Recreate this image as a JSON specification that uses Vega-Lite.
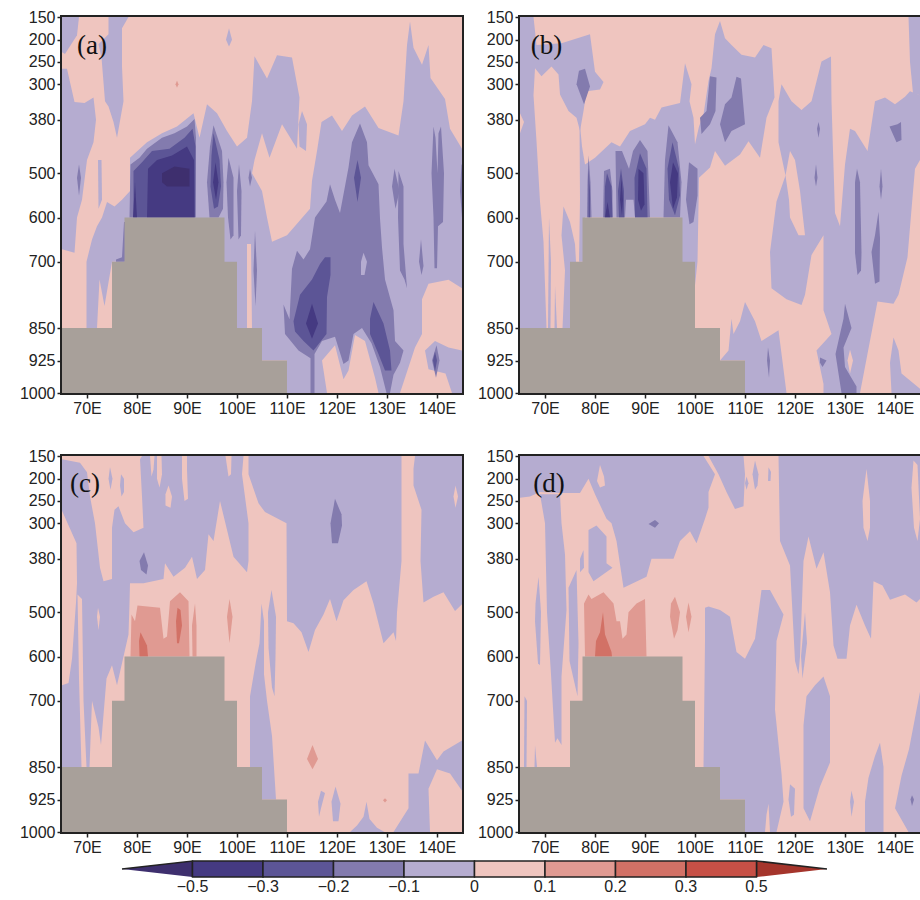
{"$schema":"https://vega.github.io/schema/vega-lite/v6.json","padding":{"left":17,"top":7,"right":0,"bottom":0},"background":"white","autosize":{"type":"pad"},
"config":{"view":{"stroke":"#222","strokeWidth":4},"axis":{"title":null,"grid":false,"domain":false,"tickSize":5,"tickWidth":1.5,"tickColor":"#222","labelFont":"Liberation Sans","labelFontSize":16,"labelColor":"#222","labelPadding":2}},
"datasets":{
"land":[{"id":99,"v":"land","x":65,"y":1000},{"id":99,"v":"land","x":65,"y":850},{"id":99,"v":"land","x":75,"y":850},{"id":99,"v":"land","x":75,"y":700},{"id":99,"v":"land","x":77.5,"y":700},{"id":99,"v":"land","x":77.5,"y":600},{"id":99,"v":"land","x":97.5,"y":600},{"id":99,"v":"land","x":97.5,"y":700},{"id":99,"v":"land","x":100,"y":700},{"id":99,"v":"land","x":100,"y":850},{"id":99,"v":"land","x":105,"y":850},{"id":99,"v":"land","x":105,"y":925},{"id":99,"v":"land","x":110,"y":925},{"id":99,"v":"land","x":110,"y":1000}],
"a":[
{"id":0,"v":"p1","x":65,"y":150},{"id":0,"v":"p1","x":145,"y":150},{"id":0,"v":"p1","x":145,"y":1000},{"id":0,"v":"p1","x":65,"y":1000},
{"id":1,"v":"n1","x":65,"y":150},{"id":1,"v":"n1","x":68.4,"y":150},{"id":1,"v":"n1","x":68,"y":190},{"id":1,"v":"n1","x":65.6,"y":232},{"id":1,"v":"n1","x":65,"y":228},
{"id":2,"v":"n1","x":74.3,"y":150},{"id":2,"v":"n1","x":78.3,"y":150},{"id":2,"v":"n1","x":77,"y":175},{"id":2,"v":"n1","x":77,"y":260},{"id":2,"v":"n1","x":77.3,"y":338},{"id":2,"v":"n1","x":76,"y":420},{"id":2,"v":"n1","x":75.3,"y":385},{"id":2,"v":"n1","x":74.3,"y":350},{"id":2,"v":"n1","x":73.6,"y":338},{"id":2,"v":"n1","x":72.9,"y":240},{"id":2,"v":"n1","x":72.3,"y":210},{"id":2,"v":"n1","x":74.3,"y":188},
{"id":3,"v":"n1","x":65,"y":265},{"id":3,"v":"n1","x":66,"y":265},{"id":3,"v":"n1","x":67.5,"y":340},{"id":3,"v":"n1","x":69.5,"y":342},{"id":3,"v":"n1","x":71.3,"y":330},{"id":3,"v":"n1","x":71.8,"y":380},{"id":3,"v":"n1","x":71.3,"y":430},{"id":3,"v":"n1","x":70,"y":470},{"id":3,"v":"n1","x":69,"y":560},{"id":3,"v":"n1","x":68,"y":600},{"id":3,"v":"n1","x":67.5,"y":680},{"id":3,"v":"n1","x":65,"y":672},
{"id":4,"v":"n1","x":69.9,"y":850},{"id":4,"v":"n1","x":69.9,"y":700},{"id":4,"v":"n1","x":71,"y":650},{"id":4,"v":"n1","x":72,"y":620},{"id":4,"v":"n1","x":73,"y":600},{"id":4,"v":"n1","x":74,"y":565},{"id":4,"v":"n1","x":75.5,"y":575},{"id":4,"v":"n1","x":77,"y":560},{"id":4,"v":"n1","x":78.6,"y":540},{"id":4,"v":"n1","x":78.6,"y":620},{"id":4,"v":"n1","x":77.5,"y":620},{"id":4,"v":"n1","x":77.5,"y":700},{"id":4,"v":"n1","x":75,"y":700},{"id":4,"v":"n1","x":73.5,"y":800},{"id":4,"v":"n1","x":72.5,"y":740},{"id":4,"v":"n1","x":72,"y":850},
{"id":5,"v":"n1","x":72.2,"y":470},{"id":5,"v":"n1","x":72.9,"y":470},{"id":5,"v":"n1","x":73,"y":560},{"id":5,"v":"n1","x":72.3,"y":580},
{"id":6,"v":"n1","x":78.6,"y":465},{"id":6,"v":"n1","x":82,"y":430},{"id":6,"v":"n1","x":85,"y":410},{"id":6,"v":"n1","x":88,"y":395},{"id":6,"v":"n1","x":91.3,"y":365},{"id":6,"v":"n1","x":92.5,"y":420},{"id":6,"v":"n1","x":94,"y":345},{"id":6,"v":"n1","x":96,"y":365},{"id":6,"v":"n1","x":98,"y":405},{"id":6,"v":"n1","x":100,"y":440},{"id":6,"v":"n1","x":102,"y":420},{"id":6,"v":"n1","x":103,"y":338},{"id":6,"v":"n1","x":103.5,"y":237},{"id":6,"v":"n1","x":106,"y":287},{"id":6,"v":"n1","x":108,"y":235},{"id":6,"v":"n1","x":111,"y":240},{"id":6,"v":"n1","x":112.5,"y":330},{"id":6,"v":"n1","x":112,"y":445},{"id":6,"v":"n1","x":109,"y":390},{"id":6,"v":"n1","x":106.5,"y":465},{"id":6,"v":"n1","x":105,"y":410},{"id":6,"v":"n1","x":103.5,"y":470},{"id":6,"v":"n1","x":103,"y":500},{"id":6,"v":"n1","x":105,"y":540},{"id":6,"v":"n1","x":106,"y":600},{"id":6,"v":"n1","x":107,"y":655},{"id":6,"v":"n1","x":110,"y":640},{"id":6,"v":"n1","x":114.6,"y":580},{"id":6,"v":"n1","x":115,"y":517},{"id":6,"v":"n1","x":116,"y":450},{"id":6,"v":"n1","x":116.9,"y":385},{"id":6,"v":"n1","x":119,"y":370},{"id":6,"v":"n1","x":121,"y":405},{"id":6,"v":"n1","x":123,"y":370},{"id":6,"v":"n1","x":125.6,"y":350},{"id":6,"v":"n1","x":128.3,"y":398},{"id":6,"v":"n1","x":132.3,"y":415},{"id":6,"v":"n1","x":133.3,"y":338},{"id":6,"v":"n1","x":134,"y":212},{"id":6,"v":"n1","x":134.6,"y":160},{"id":6,"v":"n1","x":135.3,"y":218},{"id":6,"v":"n1","x":137,"y":256},{"id":6,"v":"n1","x":138.3,"y":212},{"id":6,"v":"n1","x":138.7,"y":286},{"id":6,"v":"n1","x":141.6,"y":333},{"id":6,"v":"n1","x":142.6,"y":400},{"id":6,"v":"n1","x":145,"y":445},{"id":6,"v":"n1","x":145,"y":760},{"id":6,"v":"n1","x":142.3,"y":741},{"id":6,"v":"n1","x":138.3,"y":750},{"id":6,"v":"n1","x":137,"y":785},{"id":6,"v":"n1","x":137,"y":864},{"id":6,"v":"n1","x":135.6,"y":895},{"id":6,"v":"n1","x":132.6,"y":1000},{"id":6,"v":"n1","x":128.3,"y":1000},{"id":6,"v":"n1","x":127.6,"y":965},{"id":6,"v":"n1","x":125.6,"y":880},{"id":6,"v":"n1","x":123.6,"y":866},{"id":6,"v":"n1","x":122.3,"y":948},{"id":6,"v":"n1","x":121.3,"y":968},{"id":6,"v":"n1","x":119.6,"y":890},{"id":6,"v":"n1","x":117,"y":925},{"id":6,"v":"n1","x":118,"y":1000},{"id":6,"v":"n1","x":110,"y":1000},{"id":6,"v":"n1","x":110,"y":925},{"id":6,"v":"n1","x":105,"y":925},{"id":6,"v":"n1","x":105,"y":850},{"id":6,"v":"n1","x":103,"y":850},{"id":6,"v":"n1","x":102.8,"y":660},{"id":6,"v":"n1","x":102,"y":660},{"id":6,"v":"n1","x":102,"y":850},{"id":6,"v":"n1","x":90,"y":850},{"id":6,"v":"n1","x":78.6,"y":600},
{"id":7,"v":"n1","x":98.4,"y":175},{"id":7,"v":"n1","x":99,"y":200},{"id":7,"v":"n1","x":98.4,"y":215},{"id":7,"v":"n1","x":97.8,"y":200},
{"id":8,"v":"n1","x":113,"y":360},{"id":8,"v":"n1","x":114,"y":390},{"id":8,"v":"n1","x":113.8,"y":450},{"id":8,"v":"n1","x":112.5,"y":440},{"id":8,"v":"n1","x":112.3,"y":390},
{"id":9,"v":"n1","x":139.6,"y":880},{"id":9,"v":"n1","x":142.3,"y":895},{"id":9,"v":"n1","x":145,"y":902},{"id":9,"v":"n1","x":145,"y":1000},{"id":9,"v":"n1","x":143,"y":1000},{"id":9,"v":"n1","x":141.7,"y":955},{"id":9,"v":"n1","x":138.3,"y":945},{"id":9,"v":"n1","x":137.6,"y":902},
{"id":10,"v":"p2","x":87.7,"y":300},{"id":10,"v":"p2","x":88,"y":292},{"id":10,"v":"p2","x":88.3,"y":300},{"id":10,"v":"p2","x":88,"y":308},
{"id":11,"v":"n2","x":78.7,"y":480},{"id":11,"v":"n2","x":80.5,"y":465},{"id":11,"v":"n2","x":82,"y":445},{"id":11,"v":"n2","x":85,"y":420},{"id":11,"v":"n2","x":87.5,"y":410},{"id":11,"v":"n2","x":90,"y":395},{"id":11,"v":"n2","x":91.5,"y":378},{"id":11,"v":"n2","x":91.8,"y":420},{"id":11,"v":"n2","x":91.6,"y":600},{"id":11,"v":"n2","x":78.5,"y":600},
{"id":12,"v":"n2","x":77.4,"y":610},{"id":12,"v":"n2","x":78,"y":610},{"id":12,"v":"n2","x":78,"y":700},{"id":12,"v":"n2","x":75.8,"y":700},{"id":12,"v":"n2","x":75.8,"y":695},{"id":12,"v":"n2","x":77,"y":690},
{"id":13,"v":"n2","x":95.3,"y":392},{"id":13,"v":"n2","x":97,"y":450},{"id":13,"v":"n2","x":97.3,"y":520},{"id":13,"v":"n2","x":97.2,"y":580},{"id":13,"v":"n2","x":96.3,"y":600},{"id":13,"v":"n2","x":94.5,"y":600},{"id":13,"v":"n2","x":94,"y":520},{"id":13,"v":"n2","x":94.6,"y":440},
{"id":14,"v":"n2","x":98.3,"y":465},{"id":14,"v":"n2","x":99.3,"y":510},{"id":14,"v":"n2","x":99.3,"y":640},{"id":14,"v":"n2","x":98.7,"y":650},{"id":14,"v":"n2","x":98.2,"y":600},{"id":14,"v":"n2","x":97.9,"y":520},
{"id":15,"v":"n2","x":100.4,"y":480},{"id":15,"v":"n2","x":100.9,"y":540},{"id":15,"v":"n2","x":100.8,"y":640},{"id":15,"v":"n2","x":100.3,"y":650},{"id":15,"v":"n2","x":100,"y":540},
{"id":16,"v":"n2","x":102.6,"y":490},{"id":16,"v":"n2","x":103,"y":510},{"id":16,"v":"n2","x":102.6,"y":530},{"id":16,"v":"n2","x":102.3,"y":510},
{"id":17,"v":"n2","x":103.6,"y":630},{"id":17,"v":"n2","x":104,"y":720},{"id":17,"v":"n2","x":103.7,"y":800},{"id":17,"v":"n2","x":103.3,"y":720},
{"id":18,"v":"n2","x":68.4,"y":480},{"id":18,"v":"n2","x":68.8,"y":510},{"id":18,"v":"n2","x":68.4,"y":550},{"id":18,"v":"n2","x":68,"y":510},
{"id":19,"v":"n2","x":124.6,"y":388},{"id":19,"v":"n2","x":126,"y":430},{"id":19,"v":"n2","x":126.3,"y":482},{"id":19,"v":"n2","x":128.3,"y":525},{"id":19,"v":"n2","x":128.6,"y":602},{"id":19,"v":"n2","x":129,"y":668},{"id":19,"v":"n2","x":129.6,"y":740},{"id":19,"v":"n2","x":131.3,"y":810},{"id":19,"v":"n2","x":131.6,"y":880},{"id":19,"v":"n2","x":133.3,"y":902},{"id":19,"v":"n2","x":132.6,"y":930},{"id":19,"v":"n2","x":131.3,"y":958},{"id":19,"v":"n2","x":130.6,"y":1000},{"id":19,"v":"n2","x":129.9,"y":1000},{"id":19,"v":"n2","x":128.6,"y":940},{"id":19,"v":"n2","x":126.9,"y":885},{"id":19,"v":"n2","x":125,"y":850},{"id":19,"v":"n2","x":123.3,"y":864},{"id":19,"v":"n2","x":122.3,"y":925},{"id":19,"v":"n2","x":121.3,"y":933},{"id":19,"v":"n2","x":119.6,"y":870},{"id":19,"v":"n2","x":117,"y":880},{"id":19,"v":"n2","x":115.5,"y":910},{"id":19,"v":"n2","x":115.5,"y":1000},{"id":19,"v":"n2","x":114.7,"y":1000},{"id":19,"v":"n2","x":114.7,"y":920},{"id":19,"v":"n2","x":112.3,"y":902},{"id":19,"v":"n2","x":109.6,"y":864},{"id":19,"v":"n2","x":109.3,"y":797},{"id":19,"v":"n2","x":110.5,"y":830},{"id":19,"v":"n2","x":111,"y":716},{"id":19,"v":"n2","x":112,"y":675},{"id":19,"v":"n2","x":113.3,"y":695},{"id":19,"v":"n2","x":114.6,"y":672},{"id":19,"v":"n2","x":115.6,"y":600},{"id":19,"v":"n2","x":117.9,"y":564},{"id":19,"v":"n2","x":118.6,"y":525},{"id":19,"v":"n2","x":119.6,"y":560},{"id":19,"v":"n2","x":120.6,"y":590},{"id":19,"v":"n2","x":122.3,"y":487},{"id":19,"v":"n2","x":123,"y":430},
{"id":20,"v":"n1","x":125.3,"y":680},{"id":20,"v":"n1","x":126,"y":700},{"id":20,"v":"n1","x":125.5,"y":730},{"id":20,"v":"n1","x":124.8,"y":730},{"id":20,"v":"n1","x":124.8,"y":700},
{"id":21,"v":"n2","x":131.5,"y":490},{"id":21,"v":"n2","x":132.5,"y":540},{"id":21,"v":"n2","x":131.7,"y":580},{"id":21,"v":"n2","x":131,"y":530},
{"id":22,"v":"n2","x":132.3,"y":495},{"id":22,"v":"n2","x":133.3,"y":530},{"id":22,"v":"n2","x":133.3,"y":660},{"id":22,"v":"n2","x":134,"y":760},{"id":22,"v":"n2","x":133.5,"y":740},{"id":22,"v":"n2","x":132.6,"y":720},{"id":22,"v":"n2","x":132.2,"y":600},
{"id":23,"v":"n2","x":139.3,"y":395},{"id":23,"v":"n2","x":139.7,"y":420},{"id":23,"v":"n2","x":140.1,"y":500},{"id":23,"v":"n2","x":140.3,"y":410},{"id":23,"v":"n2","x":140.8,"y":395},{"id":23,"v":"n2","x":141.4,"y":500},{"id":23,"v":"n2","x":141.2,"y":610},{"id":23,"v":"n2","x":140.2,"y":620},{"id":23,"v":"n2","x":140,"y":715},{"id":23,"v":"n2","x":139.5,"y":715},{"id":23,"v":"n2","x":139.3,"y":600},{"id":23,"v":"n2","x":138.9,"y":500},
{"id":24,"v":"n2","x":136.8,"y":650},{"id":24,"v":"n2","x":137.3,"y":710},{"id":24,"v":"n2","x":136.9,"y":730},{"id":24,"v":"n2","x":136.4,"y":700},
{"id":25,"v":"n2","x":139.9,"y":890},{"id":25,"v":"n2","x":140.5,"y":925},{"id":25,"v":"n2","x":139.8,"y":965},{"id":25,"v":"n2","x":139,"y":925},
{"id":26,"v":"n2","x":144.9,"y":480},{"id":26,"v":"n2","x":145,"y":480},{"id":26,"v":"n2","x":145,"y":600},{"id":26,"v":"n2","x":144.6,"y":540},
{"id":30,"v":"n3","x":79.3,"y":495},{"id":30,"v":"n3","x":81,"y":475},{"id":30,"v":"n3","x":83,"y":450},{"id":30,"v":"n3","x":86.5,"y":445},{"id":30,"v":"n3","x":89.5,"y":420},{"id":30,"v":"n3","x":91.1,"y":400},{"id":30,"v":"n3","x":91.7,"y":440},{"id":30,"v":"n3","x":91.7,"y":600},{"id":30,"v":"n3","x":79.3,"y":600},
{"id":31,"v":"n3","x":95.3,"y":410},{"id":31,"v":"n3","x":96.5,"y":470},{"id":31,"v":"n3","x":96.8,"y":530},{"id":31,"v":"n3","x":96.2,"y":575},{"id":31,"v":"n3","x":95.4,"y":580},{"id":31,"v":"n3","x":94.7,"y":530},{"id":31,"v":"n3","x":94.9,"y":460},
{"id":32,"v":"n3","x":117.6,"y":690},{"id":32,"v":"n3","x":118.7,"y":690},{"id":32,"v":"n3","x":118.7,"y":730},{"id":32,"v":"n3","x":118,"y":780},{"id":32,"v":"n3","x":117.9,"y":864},{"id":32,"v":"n3","x":115.3,"y":902},{"id":32,"v":"n3","x":113.3,"y":880},{"id":32,"v":"n3","x":111.6,"y":858},{"id":32,"v":"n3","x":111.3,"y":835},{"id":32,"v":"n3","x":112.6,"y":775},{"id":32,"v":"n3","x":115,"y":740},{"id":32,"v":"n3","x":116.6,"y":705},
{"id":33,"v":"n3","x":127.3,"y":791},{"id":33,"v":"n3","x":129.3,"y":840},{"id":33,"v":"n3","x":130.6,"y":902},{"id":33,"v":"n3","x":130.9,"y":948},{"id":33,"v":"n3","x":129.6,"y":948},{"id":33,"v":"n3","x":128.3,"y":910},{"id":33,"v":"n3","x":126.6,"y":864},{"id":33,"v":"n3","x":126.6,"y":829},
{"id":34,"v":"n3","x":124.1,"y":470},{"id":34,"v":"n3","x":124.8,"y":510},{"id":34,"v":"n3","x":124.1,"y":565},{"id":34,"v":"n3","x":123.4,"y":510},
{"id":35,"v":"n3","x":139.6,"y":905},{"id":35,"v":"n3","x":140,"y":925},{"id":35,"v":"n3","x":139.6,"y":950},{"id":35,"v":"n3","x":139.2,"y":925},
{"id":40,"v":"n4","x":82.2,"y":490},{"id":40,"v":"n4","x":84,"y":470},{"id":40,"v":"n4","x":87,"y":460},{"id":40,"v":"n4","x":90,"y":440},{"id":40,"v":"n4","x":91.4,"y":470},{"id":40,"v":"n4","x":91.5,"y":600},{"id":40,"v":"n4","x":82,"y":600},
{"id":41,"v":"n4","x":79.6,"y":520},{"id":41,"v":"n4","x":80,"y":600},{"id":41,"v":"n4","x":79.2,"y":600},
{"id":42,"v":"n4","x":95.7,"y":475},{"id":42,"v":"n4","x":96.3,"y":520},{"id":42,"v":"n4","x":95.8,"y":560},{"id":42,"v":"n4","x":95.2,"y":520},
{"id":43,"v":"n4","x":115,"y":795},{"id":43,"v":"n4","x":116.2,"y":840},{"id":43,"v":"n4","x":115,"y":875},{"id":43,"v":"n4","x":113.8,"y":840},
{"id":50,"v":"n5","x":85,"y":500},{"id":50,"v":"n5","x":87.5,"y":485},{"id":50,"v":"n5","x":90.5,"y":490},{"id":50,"v":"n5","x":90.5,"y":530},{"id":50,"v":"n5","x":86,"y":530},{"id":50,"v":"n5","x":85,"y":520}
],
"b":[
{"id":0,"v":"p1","x":65,"y":150},{"id":0,"v":"p1","x":145,"y":150},{"id":0,"v":"p1","x":145,"y":1000},{"id":0,"v":"p1","x":65,"y":1000},
{"id":1,"v":"n1","x":65,"y":150},{"id":1,"v":"n1","x":67.7,"y":150},{"id":1,"v":"n1","x":68.3,"y":212},{"id":1,"v":"n1","x":73.3,"y":208},{"id":1,"v":"n1","x":79,"y":188},{"id":1,"v":"n1","x":80,"y":272},{"id":1,"v":"n1","x":81.7,"y":295},{"id":1,"v":"n1","x":81,"y":312},{"id":1,"v":"n1","x":78.3,"y":316},{"id":1,"v":"n1","x":77.7,"y":360},{"id":1,"v":"n1","x":77,"y":405},{"id":1,"v":"n1","x":76.3,"y":375},{"id":1,"v":"n1","x":74.7,"y":360},{"id":1,"v":"n1","x":73,"y":323},{"id":1,"v":"n1","x":72.7,"y":278},{"id":1,"v":"n1","x":71.3,"y":260},{"id":1,"v":"n1","x":69.3,"y":282},{"id":1,"v":"n1","x":68,"y":264},{"id":1,"v":"n1","x":67.7,"y":325},{"id":1,"v":"n1","x":68.3,"y":428},{"id":1,"v":"n1","x":69,"y":564},{"id":1,"v":"n1","x":69.7,"y":655},{"id":1,"v":"n1","x":70,"y":753},{"id":1,"v":"n1","x":70.3,"y":850},{"id":1,"v":"n1","x":65,"y":850},
{"id":2,"v":"p1","x":65,"y":365},{"id":2,"v":"p1","x":65.8,"y":385},{"id":2,"v":"p1","x":65,"y":410},
{"id":3,"v":"n1","x":70.8,"y":600},{"id":3,"v":"n1","x":71.2,"y":700},{"id":3,"v":"n1","x":71.1,"y":850},{"id":3,"v":"n1","x":70.6,"y":850},
{"id":4,"v":"n1","x":72,"y":755},{"id":4,"v":"n1","x":72.4,"y":850},{"id":4,"v":"n1","x":71.9,"y":850},
{"id":5,"v":"n1","x":73.7,"y":575},{"id":5,"v":"n1","x":75,"y":610},{"id":5,"v":"n1","x":76,"y":660},{"id":5,"v":"n1","x":76.2,"y":700},{"id":5,"v":"n1","x":75,"y":850},{"id":5,"v":"n1","x":73.5,"y":850},{"id":5,"v":"n1","x":74,"y":720},{"id":5,"v":"n1","x":73.3,"y":640},
{"id":6,"v":"n1","x":76.9,"y":380},{"id":6,"v":"n1","x":77.4,"y":440},{"id":6,"v":"n1","x":78,"y":480},{"id":6,"v":"n1","x":78,"y":700},{"id":6,"v":"n1","x":76.8,"y":700},{"id":6,"v":"n1","x":77,"y":560},
{"id":7,"v":"n1","x":78,"y":480},{"id":7,"v":"n1","x":80,"y":465},{"id":7,"v":"n1","x":83.3,"y":430},{"id":7,"v":"n1","x":85,"y":440},{"id":7,"v":"n1","x":87,"y":405},{"id":7,"v":"n1","x":90,"y":390},{"id":7,"v":"n1","x":91,"y":375},{"id":7,"v":"n1","x":92,"y":380},{"id":7,"v":"n1","x":93.3,"y":352},{"id":7,"v":"n1","x":97,"y":342},{"id":7,"v":"n1","x":98,"y":253},{"id":7,"v":"n1","x":99.3,"y":300},{"id":7,"v":"n1","x":98.9,"y":338},{"id":7,"v":"n1","x":99.7,"y":375},{"id":7,"v":"n1","x":100,"y":435},{"id":7,"v":"n1","x":100.8,"y":395},{"id":7,"v":"n1","x":101.7,"y":368},{"id":7,"v":"n1","x":102.7,"y":293},{"id":7,"v":"n1","x":103.3,"y":264},{"id":7,"v":"n1","x":104,"y":188},{"id":7,"v":"n1","x":105,"y":159},{"id":7,"v":"n1","x":106,"y":197},{"id":7,"v":"n1","x":107.3,"y":212},{"id":7,"v":"n1","x":109.3,"y":234},{"id":7,"v":"n1","x":112,"y":240},{"id":7,"v":"n1","x":113.7,"y":212},{"id":7,"v":"n1","x":115.3,"y":219},{"id":7,"v":"n1","x":115.9,"y":330},{"id":7,"v":"n1","x":114.3,"y":375},{"id":7,"v":"n1","x":113,"y":465},{"id":7,"v":"n1","x":110.7,"y":428},{"id":7,"v":"n1","x":109,"y":458},{"id":7,"v":"n1","x":106,"y":483},{"id":7,"v":"n1","x":104,"y":450},{"id":7,"v":"n1","x":103,"y":487},{"id":7,"v":"n1","x":100.8,"y":510},{"id":7,"v":"n1","x":100.5,"y":700},{"id":7,"v":"n1","x":100,"y":753},{"id":7,"v":"n1","x":97,"y":850},{"id":7,"v":"n1","x":97,"y":600},{"id":7,"v":"n1","x":78,"y":600},
{"id":8,"v":"n1","x":116.7,"y":338},{"id":8,"v":"n1","x":117.3,"y":300},{"id":8,"v":"n1","x":119.3,"y":338},{"id":8,"v":"n1","x":121.3,"y":358},{"id":8,"v":"n1","x":123.3,"y":338},{"id":8,"v":"n1","x":125.3,"y":249},{"id":8,"v":"n1","x":127.2,"y":238},{"id":8,"v":"n1","x":127.3,"y":338},{"id":8,"v":"n1","x":127.6,"y":450},{"id":8,"v":"n1","x":128,"y":590},{"id":8,"v":"n1","x":129,"y":620},{"id":8,"v":"n1","x":130,"y":480},{"id":8,"v":"n1","x":131,"y":400},{"id":8,"v":"n1","x":132,"y":405},{"id":8,"v":"n1","x":134.5,"y":450},{"id":8,"v":"n1","x":136,"y":338},{"id":8,"v":"n1","x":138,"y":330},{"id":8,"v":"n1","x":140,"y":345},{"id":8,"v":"n1","x":142,"y":328},{"id":8,"v":"n1","x":143,"y":316},{"id":8,"v":"n1","x":145,"y":325},{"id":8,"v":"n1","x":145,"y":470},{"id":8,"v":"n1","x":144,"y":490},{"id":8,"v":"n1","x":143.5,"y":555},{"id":8,"v":"n1","x":142.5,"y":690},{"id":8,"v":"n1","x":140.7,"y":775},{"id":8,"v":"n1","x":139.7,"y":795},{"id":8,"v":"n1","x":136.5,"y":790},{"id":8,"v":"n1","x":133,"y":1000},{"id":8,"v":"n1","x":125.7,"y":1000},{"id":8,"v":"n1","x":125.7,"y":979},{"id":8,"v":"n1","x":124.3,"y":902},{"id":8,"v":"n1","x":127.3,"y":864},{"id":8,"v":"n1","x":125.7,"y":810},{"id":8,"v":"n1","x":125.7,"y":730},{"id":8,"v":"n1","x":125.7,"y":640},{"id":8,"v":"n1","x":123.3,"y":685},{"id":8,"v":"n1","x":122,"y":775},{"id":8,"v":"n1","x":121.3,"y":798},{"id":8,"v":"n1","x":118.3,"y":785},{"id":8,"v":"n1","x":115.3,"y":760},{"id":8,"v":"n1","x":115,"y":678},{"id":8,"v":"n1","x":116.3,"y":564},{"id":8,"v":"n1","x":118.1,"y":505},{"id":8,"v":"n1","x":116.7,"y":430},
{"id":9,"v":"p1","x":118.1,"y":505},{"id":9,"v":"p1","x":119,"y":450},{"id":9,"v":"p1","x":120,"y":470},{"id":9,"v":"p1","x":121,"y":540},{"id":9,"v":"p1","x":122,"y":640},{"id":9,"v":"p1","x":120.7,"y":640},{"id":9,"v":"p1","x":119,"y":600},{"id":9,"v":"p1","x":118.8,"y":560},
{"id":10,"v":"n1","x":110,"y":791},{"id":10,"v":"n1","x":112,"y":835},{"id":10,"v":"n1","x":113.3,"y":880},{"id":10,"v":"n1","x":116.7,"y":855},{"id":10,"v":"n1","x":118.3,"y":1000},{"id":10,"v":"n1","x":110,"y":1000},{"id":10,"v":"n1","x":110,"y":925},{"id":10,"v":"n1","x":105,"y":925},{"id":10,"v":"n1","x":106.7,"y":902},{"id":10,"v":"n1","x":107.3,"y":829},{"id":10,"v":"n1","x":107.7,"y":864},{"id":10,"v":"n1","x":109,"y":835},
{"id":11,"v":"n1","x":139.7,"y":872},{"id":11,"v":"n1","x":140.7,"y":902},{"id":11,"v":"n1","x":141.3,"y":955},{"id":11,"v":"n1","x":145,"y":990},{"id":11,"v":"n1","x":145,"y":1000},{"id":11,"v":"n1","x":139.3,"y":1000},{"id":11,"v":"n1","x":139,"y":930},
{"id":12,"v":"n1","x":142.7,"y":150},{"id":12,"v":"n1","x":145,"y":150},{"id":12,"v":"n1","x":145,"y":325},{"id":12,"v":"n1","x":143.6,"y":320},{"id":12,"v":"n1","x":143,"y":250},
{"id":20,"v":"n2","x":78,"y":265},{"id":20,"v":"n2","x":79,"y":305},{"id":20,"v":"n2","x":77.8,"y":345},{"id":20,"v":"n2","x":76.3,"y":300},{"id":20,"v":"n2","x":76.8,"y":270},
{"id":21,"v":"n2","x":81.6,"y":600},{"id":21,"v":"n2","x":81.8,"y":495},{"id":21,"v":"n2","x":83,"y":490},{"id":21,"v":"n2","x":83.5,"y":540},{"id":21,"v":"n2","x":83.5,"y":600},
{"id":22,"v":"n2","x":84.3,"y":600},{"id":22,"v":"n2","x":84.1,"y":450},{"id":22,"v":"n2","x":85.4,"y":450},{"id":22,"v":"n2","x":86.8,"y":490},{"id":22,"v":"n2","x":87.6,"y":450},{"id":22,"v":"n2","x":89,"y":425},{"id":22,"v":"n2","x":90.5,"y":450},{"id":22,"v":"n2","x":91,"y":600},{"id":22,"v":"n2","x":88,"y":600},{"id":22,"v":"n2","x":87.7,"y":560},{"id":22,"v":"n2","x":86.2,"y":560},{"id":22,"v":"n2","x":86,"y":600},
{"id":23,"v":"n2","x":78.7,"y":460},{"id":23,"v":"n2","x":79.1,"y":520},{"id":23,"v":"n2","x":79.3,"y":600},{"id":23,"v":"n2","x":78.4,"y":600},{"id":23,"v":"n2","x":78.5,"y":520},
{"id":24,"v":"n2","x":94.7,"y":392},{"id":24,"v":"n2","x":96.5,"y":430},{"id":24,"v":"n2","x":97.3,"y":520},{"id":24,"v":"n2","x":97,"y":600},{"id":24,"v":"n2","x":93.7,"y":600},{"id":24,"v":"n2","x":94,"y":470},
{"id":25,"v":"n2","x":98.8,"y":475},{"id":25,"v":"n2","x":100.5,"y":490},{"id":25,"v":"n2","x":100.5,"y":550},{"id":25,"v":"n2","x":99.7,"y":610},{"id":25,"v":"n2","x":98.9,"y":615},{"id":25,"v":"n2","x":98.2,"y":560},
{"id":26,"v":"n2","x":103,"y":282},{"id":26,"v":"n2","x":104.3,"y":285},{"id":26,"v":"n2","x":104.1,"y":360},{"id":26,"v":"n2","x":103,"y":390},{"id":26,"v":"n2","x":101.3,"y":412},{"id":26,"v":"n2","x":101,"y":375},{"id":26,"v":"n2","x":102.3,"y":360},
{"id":27,"v":"n2","x":108.3,"y":283},{"id":27,"v":"n2","x":109.2,"y":287},{"id":27,"v":"n2","x":110,"y":390},{"id":27,"v":"n2","x":107.3,"y":405},{"id":27,"v":"n2","x":106,"y":430},{"id":27,"v":"n2","x":105,"y":390},{"id":27,"v":"n2","x":106,"y":345},{"id":27,"v":"n2","x":107.3,"y":330},
{"id":28,"v":"n2","x":124.7,"y":385},{"id":28,"v":"n2","x":125,"y":400},{"id":28,"v":"n2","x":124.7,"y":420},{"id":28,"v":"n2","x":124.4,"y":400},
{"id":29,"v":"n2","x":124.2,"y":480},{"id":29,"v":"n2","x":124.5,"y":510},{"id":29,"v":"n2","x":124.2,"y":530},{"id":29,"v":"n2","x":123.9,"y":510},
{"id":30,"v":"n2","x":137.2,"y":490},{"id":30,"v":"n2","x":137.5,"y":530},{"id":30,"v":"n2","x":137.2,"y":560},{"id":30,"v":"n2","x":136.9,"y":530},
{"id":31,"v":"n2","x":138.9,"y":395},{"id":31,"v":"n2","x":140.5,"y":390},{"id":31,"v":"n2","x":141.2,"y":385},{"id":31,"v":"n2","x":141.3,"y":425},{"id":31,"v":"n2","x":140.3,"y":430},{"id":31,"v":"n2","x":139.5,"y":410},
{"id":32,"v":"n2","x":132.4,"y":490},{"id":32,"v":"n2","x":133,"y":520},{"id":32,"v":"n2","x":133.3,"y":680},{"id":32,"v":"n2","x":133.2,"y":720},{"id":32,"v":"n2","x":132.5,"y":730},{"id":32,"v":"n2","x":132,"y":680},{"id":32,"v":"n2","x":132,"y":520},
{"id":33,"v":"n2","x":136.7,"y":587},{"id":33,"v":"n2","x":137,"y":647},{"id":33,"v":"n2","x":136.9,"y":745},{"id":33,"v":"n2","x":136,"y":750},{"id":33,"v":"n2","x":135.3,"y":678},{"id":33,"v":"n2","x":136,"y":640},
{"id":34,"v":"n2","x":130,"y":795},{"id":34,"v":"n2","x":131.3,"y":850},{"id":34,"v":"n2","x":129.7,"y":895},{"id":34,"v":"n2","x":130,"y":940},{"id":34,"v":"n2","x":132.3,"y":985},{"id":34,"v":"n2","x":132.3,"y":1000},{"id":34,"v":"n2","x":129.3,"y":1000},{"id":34,"v":"n2","x":128.1,"y":910},{"id":34,"v":"n2","x":129,"y":864},{"id":34,"v":"n2","x":129.7,"y":829},
{"id":35,"v":"p1","x":131,"y":900},{"id":35,"v":"p1","x":131.6,"y":925},{"id":35,"v":"p1","x":131,"y":955},{"id":35,"v":"p1","x":130.5,"y":925},
{"id":36,"v":"n2","x":125,"y":918},{"id":36,"v":"n2","x":126.3,"y":925},{"id":36,"v":"n2","x":125.5,"y":940},{"id":36,"v":"n2","x":125,"y":930},
{"id":37,"v":"n2","x":114.6,"y":895},{"id":37,"v":"n2","x":115,"y":925},{"id":37,"v":"n2","x":114.8,"y":965},{"id":37,"v":"n2","x":114.4,"y":925},
{"id":40,"v":"n3","x":78.7,"y":490},{"id":40,"v":"n3","x":79,"y":540},{"id":40,"v":"n3","x":79,"y":600},{"id":40,"v":"n3","x":78.7,"y":600},
{"id":41,"v":"n3","x":82.4,"y":500},{"id":41,"v":"n3","x":83.3,"y":530},{"id":41,"v":"n3","x":83.5,"y":600},{"id":41,"v":"n3","x":81.9,"y":600},{"id":41,"v":"n3","x":82,"y":530},
{"id":42,"v":"n3","x":85.2,"y":490},{"id":42,"v":"n3","x":85.8,"y":540},{"id":42,"v":"n3","x":85.8,"y":600},{"id":42,"v":"n3","x":84.8,"y":600},{"id":42,"v":"n3","x":84.6,"y":540},
{"id":43,"v":"n3","x":89,"y":455},{"id":43,"v":"n3","x":90.3,"y":490},{"id":43,"v":"n3","x":90.5,"y":600},{"id":43,"v":"n3","x":88,"y":600},{"id":43,"v":"n3","x":87.9,"y":510},
{"id":44,"v":"n3","x":95.5,"y":430},{"id":44,"v":"n3","x":96.8,"y":490},{"id":44,"v":"n3","x":97,"y":550},{"id":44,"v":"n3","x":96,"y":595},{"id":44,"v":"n3","x":94.8,"y":560},{"id":44,"v":"n3","x":94.5,"y":490},
{"id":50,"v":"n4","x":82.5,"y":565},{"id":50,"v":"n4","x":83,"y":600},{"id":50,"v":"n4","x":82,"y":600},
{"id":51,"v":"n4","x":85.3,"y":510},{"id":51,"v":"n4","x":85.6,"y":560},{"id":51,"v":"n4","x":85.4,"y":595},{"id":51,"v":"n4","x":85,"y":560},
{"id":52,"v":"n4","x":88.7,"y":490},{"id":52,"v":"n4","x":89.7,"y":500},{"id":52,"v":"n4","x":89.9,"y":570},{"id":52,"v":"n4","x":89.2,"y":585},{"id":52,"v":"n4","x":88.6,"y":560},
{"id":53,"v":"n4","x":95.6,"y":475},{"id":53,"v":"n4","x":96.6,"y":500},{"id":53,"v":"n4","x":96.4,"y":555},{"id":53,"v":"n4","x":95.6,"y":580},{"id":53,"v":"n4","x":95,"y":520}
],
"c":[
{"id":0,"v":"p1","x":65,"y":150},{"id":0,"v":"p1","x":145,"y":150},{"id":0,"v":"p1","x":145,"y":1000},{"id":0,"v":"p1","x":65,"y":1000},
{"id":1,"v":"n1","x":65,"y":157},{"id":1,"v":"n1","x":68.6,"y":165},{"id":1,"v":"n1","x":70,"y":186},{"id":1,"v":"n1","x":70.6,"y":240},{"id":1,"v":"n1","x":71.6,"y":300},{"id":1,"v":"n1","x":72.6,"y":400},{"id":1,"v":"n1","x":73.3,"y":430},{"id":1,"v":"n1","x":75,"y":425},{"id":1,"v":"n1","x":75,"y":310},{"id":1,"v":"n1","x":75.5,"y":270},{"id":1,"v":"n1","x":76.3,"y":262},{"id":1,"v":"n1","x":77.6,"y":300},{"id":1,"v":"n1","x":79.3,"y":320},{"id":1,"v":"n1","x":81.3,"y":310},{"id":1,"v":"n1","x":81,"y":240},{"id":1,"v":"n1","x":80.6,"y":157},{"id":1,"v":"n1","x":81,"y":150},{"id":1,"v":"n1","x":101.3,"y":150},{"id":1,"v":"n1","x":101,"y":190},{"id":1,"v":"n1","x":102.3,"y":300},{"id":1,"v":"n1","x":102.3,"y":385},{"id":1,"v":"n1","x":102,"y":410},{"id":1,"v":"n1","x":99.3,"y":375},{"id":1,"v":"n1","x":96.6,"y":250},{"id":1,"v":"n1","x":95.3,"y":340},{"id":1,"v":"n1","x":94.3,"y":325},{"id":1,"v":"n1","x":93.6,"y":405},{"id":1,"v":"n1","x":92,"y":425},{"id":1,"v":"n1","x":91,"y":375},{"id":1,"v":"n1","x":89.6,"y":400},{"id":1,"v":"n1","x":87.3,"y":420},{"id":1,"v":"n1","x":85.6,"y":390},{"id":1,"v":"n1","x":85.3,"y":425},{"id":1,"v":"n1","x":81.3,"y":435},{"id":1,"v":"n1","x":78.6,"y":435},{"id":1,"v":"n1","x":78.5,"y":480},{"id":1,"v":"n1","x":78.3,"y":550},{"id":1,"v":"n1","x":76,"y":665},{"id":1,"v":"n1","x":75,"y":620},{"id":1,"v":"n1","x":73.9,"y":650},{"id":1,"v":"n1","x":72.8,"y":800},{"id":1,"v":"n1","x":72.3,"y":760},{"id":1,"v":"n1","x":71,"y":700},{"id":1,"v":"n1","x":70.5,"y":850},{"id":1,"v":"n1","x":65,"y":850},{"id":1,"v":"n1","x":65,"y":665},{"id":1,"v":"n1","x":66.3,"y":660},{"id":1,"v":"n1","x":67,"y":605},{"id":1,"v":"n1","x":67.8,"y":478},{"id":1,"v":"n1","x":68,"y":435},{"id":1,"v":"n1","x":67.9,"y":345},{"id":1,"v":"n1","x":65,"y":272},
{"id":2,"v":"p1","x":68.1,"y":460},{"id":2,"v":"p1","x":69,"y":470},{"id":2,"v":"p1","x":69.3,"y":700},{"id":2,"v":"p1","x":69.9,"y":850},{"id":2,"v":"p1","x":68.9,"y":850},{"id":2,"v":"p1","x":68.4,"y":650},
{"id":3,"v":"p1","x":72.2,"y":490},{"id":3,"v":"p1","x":72.6,"y":510},{"id":3,"v":"p1","x":72.3,"y":540},{"id":3,"v":"p1","x":72,"y":510},
{"id":4,"v":"p1","x":86.3,"y":215},{"id":4,"v":"p1","x":87,"y":240},{"id":4,"v":"p1","x":86.7,"y":265},{"id":4,"v":"p1","x":85.7,"y":260},{"id":4,"v":"p1","x":85.7,"y":235},
{"id":5,"v":"p1","x":89,"y":150},{"id":5,"v":"p1","x":90,"y":150},{"id":5,"v":"p1","x":90,"y":180},{"id":5,"v":"p1","x":90.2,"y":245},{"id":5,"v":"p1","x":89.5,"y":250},{"id":5,"v":"p1","x":89,"y":200},
{"id":6,"v":"p1","x":82.6,"y":150},{"id":6,"v":"p1","x":83.5,"y":150},{"id":6,"v":"p1","x":83.3,"y":180},{"id":6,"v":"p1","x":82.9,"y":195},
{"id":7,"v":"p1","x":97.7,"y":150},{"id":7,"v":"p1","x":98.9,"y":150},{"id":7,"v":"p1","x":98.8,"y":190},{"id":7,"v":"p1","x":98.3,"y":195},
{"id":8,"v":"p1","x":84,"y":150},{"id":8,"v":"p1","x":84.9,"y":150},{"id":8,"v":"p1","x":85,"y":190},{"id":8,"v":"p1","x":84.5,"y":220},{"id":8,"v":"p1","x":84,"y":200},
{"id":9,"v":"n1","x":74.6,"y":175},{"id":9,"v":"n1","x":75.1,"y":200},{"id":9,"v":"n1","x":74.7,"y":225},{"id":9,"v":"n1","x":74.3,"y":200},
{"id":10,"v":"n1","x":76.8,"y":190},{"id":10,"v":"n1","x":77.4,"y":200},{"id":10,"v":"n1","x":77.4,"y":230},{"id":10,"v":"n1","x":76.9,"y":240},{"id":10,"v":"n1","x":76.6,"y":215},
{"id":11,"v":"n1","x":102.3,"y":150},{"id":11,"v":"n1","x":132.9,"y":150},{"id":11,"v":"n1","x":132.9,"y":385},{"id":11,"v":"n1","x":132,"y":500},{"id":11,"v":"n1","x":131.8,"y":565},{"id":11,"v":"n1","x":131.3,"y":545},{"id":11,"v":"n1","x":129.3,"y":570},{"id":11,"v":"n1","x":127.3,"y":480},{"id":11,"v":"n1","x":125.9,"y":430},{"id":11,"v":"n1","x":123.3,"y":450},{"id":11,"v":"n1","x":121.3,"y":473},{"id":11,"v":"n1","x":119.9,"y":520},{"id":11,"v":"n1","x":118.6,"y":470},{"id":11,"v":"n1","x":117.3,"y":505},{"id":11,"v":"n1","x":115.6,"y":540},{"id":11,"v":"n1","x":114.3,"y":590},{"id":11,"v":"n1","x":112.9,"y":545},{"id":11,"v":"n1","x":111.3,"y":525},{"id":11,"v":"n1","x":110,"y":520},{"id":11,"v":"n1","x":109.9,"y":300},{"id":11,"v":"n1","x":105.6,"y":275},{"id":11,"v":"n1","x":104.3,"y":255},{"id":11,"v":"n1","x":102.3,"y":190},
{"id":12,"v":"n1","x":135.6,"y":150},{"id":12,"v":"n1","x":145,"y":150},{"id":12,"v":"n1","x":145,"y":482},{"id":12,"v":"n1","x":143.6,"y":497},{"id":12,"v":"n1","x":141.3,"y":455},{"id":12,"v":"n1","x":139.3,"y":465},{"id":12,"v":"n1","x":137.3,"y":478},{"id":12,"v":"n1","x":136.7,"y":385},{"id":12,"v":"n1","x":136.9,"y":270},{"id":12,"v":"n1","x":135.3,"y":215},{"id":12,"v":"n1","x":135.3,"y":178},
{"id":13,"v":"p1","x":143.7,"y":215},{"id":13,"v":"p1","x":144.2,"y":240},{"id":13,"v":"p1","x":143.7,"y":265},{"id":13,"v":"p1","x":143.3,"y":240},
{"id":14,"v":"n1","x":106.9,"y":450},{"id":14,"v":"n1","x":107.8,"y":510},{"id":14,"v":"n1","x":107.7,"y":600},{"id":14,"v":"n1","x":107.5,"y":690},{"id":14,"v":"n1","x":107,"y":670},{"id":14,"v":"n1","x":106.3,"y":580},{"id":14,"v":"n1","x":106.2,"y":500},
{"id":15,"v":"n1","x":104.9,"y":480},{"id":15,"v":"n1","x":105.4,"y":520},{"id":15,"v":"n1","x":105.4,"y":640},{"id":15,"v":"n1","x":106,"y":700},{"id":15,"v":"n1","x":107,"y":780},{"id":15,"v":"n1","x":107.8,"y":925},{"id":15,"v":"n1","x":105,"y":925},{"id":15,"v":"n1","x":105,"y":850},{"id":15,"v":"n1","x":102.6,"y":850},{"id":15,"v":"n1","x":102.6,"y":690},{"id":15,"v":"n1","x":103.8,"y":610},{"id":15,"v":"n1","x":104.5,"y":570},
{"id":16,"v":"n1","x":122.6,"y":1000},{"id":16,"v":"n1","x":124,"y":985},{"id":16,"v":"n1","x":125.3,"y":965},{"id":16,"v":"n1","x":125.9,"y":930},{"id":16,"v":"n1","x":126.5,"y":970},{"id":16,"v":"n1","x":128,"y":990},{"id":16,"v":"n1","x":129.5,"y":1000},
{"id":17,"v":"n1","x":131.3,"y":1000},{"id":17,"v":"n1","x":134.3,"y":945},{"id":17,"v":"n1","x":134.3,"y":865},{"id":17,"v":"n1","x":136.3,"y":865},{"id":17,"v":"n1","x":137.6,"y":790},{"id":17,"v":"n1","x":140,"y":835},{"id":17,"v":"n1","x":141.3,"y":815},{"id":17,"v":"n1","x":145,"y":790},{"id":17,"v":"n1","x":145,"y":1000},
{"id":18,"v":"p1","x":138.6,"y":1000},{"id":18,"v":"p1","x":138.3,"y":900},{"id":18,"v":"p1","x":140,"y":855},{"id":18,"v":"p1","x":142.6,"y":865},{"id":18,"v":"p1","x":145,"y":905},{"id":18,"v":"p1","x":145,"y":1000},
{"id":19,"v":"n1","x":119.7,"y":895},{"id":19,"v":"n1","x":120.7,"y":935},{"id":19,"v":"n1","x":120.3,"y":975},{"id":19,"v":"n1","x":119.2,"y":975},{"id":19,"v":"n1","x":118.9,"y":930},
{"id":20,"v":"n1","x":116.8,"y":905},{"id":20,"v":"n1","x":117.6,"y":910},{"id":20,"v":"n1","x":116.8,"y":945},{"id":20,"v":"n1","x":116.4,"y":965},{"id":20,"v":"n1","x":116.2,"y":930},
{"id":30,"v":"n2","x":119.6,"y":245},{"id":30,"v":"n2","x":120.9,"y":280},{"id":30,"v":"n2","x":121,"y":305},{"id":30,"v":"n2","x":120.2,"y":345},{"id":30,"v":"n2","x":119,"y":345},{"id":30,"v":"n2","x":118.7,"y":300},
{"id":31,"v":"n2","x":81.4,"y":365},{"id":31,"v":"n2","x":82.2,"y":395},{"id":31,"v":"n2","x":81.9,"y":415},{"id":31,"v":"n2","x":80.8,"y":405},{"id":31,"v":"n2","x":80.5,"y":385},
{"id":40,"v":"p2","x":78.7,"y":600},{"id":40,"v":"p2","x":78.9,"y":505},{"id":40,"v":"p2","x":79.6,"y":520},{"id":40,"v":"p2","x":80.1,"y":485},{"id":40,"v":"p2","x":84.6,"y":490},{"id":40,"v":"p2","x":85.3,"y":560},{"id":40,"v":"p2","x":86,"y":555},{"id":40,"v":"p2","x":86.6,"y":475},{"id":40,"v":"p2","x":88.6,"y":455},{"id":40,"v":"p2","x":90.3,"y":475},{"id":40,"v":"p2","x":90.5,"y":600},
{"id":41,"v":"p2","x":91.6,"y":480},{"id":41,"v":"p2","x":91.9,"y":530},{"id":41,"v":"p2","x":91.9,"y":600},{"id":41,"v":"p2","x":91.1,"y":600},{"id":41,"v":"p2","x":91,"y":530},
{"id":42,"v":"p2","x":98.5,"y":470},{"id":42,"v":"p2","x":99.1,"y":510},{"id":42,"v":"p2","x":98.5,"y":570},{"id":42,"v":"p2","x":98,"y":510},
{"id":43,"v":"p2","x":115.1,"y":800},{"id":43,"v":"p2","x":116.2,"y":832},{"id":43,"v":"p2","x":115.1,"y":855},{"id":43,"v":"p2","x":114,"y":832},
{"id":44,"v":"p2","x":129.2,"y":927},{"id":44,"v":"p2","x":129.6,"y":922},{"id":44,"v":"p2","x":130,"y":927},{"id":44,"v":"p2","x":129.6,"y":932},
{"id":50,"v":"p3","x":80.7,"y":545},{"id":50,"v":"p3","x":82,"y":575},{"id":50,"v":"p3","x":82.2,"y":600},{"id":50,"v":"p3","x":80.5,"y":600},{"id":50,"v":"p3","x":80.4,"y":565},
{"id":51,"v":"p3","x":88.1,"y":490},{"id":51,"v":"p3","x":88.7,"y":495},{"id":51,"v":"p3","x":89,"y":530},{"id":51,"v":"p3","x":88.4,"y":570},{"id":51,"v":"p3","x":88,"y":570},{"id":51,"v":"p3","x":87.8,"y":520}
],
"d":[
{"id":0,"v":"p1","x":65,"y":150},{"id":0,"v":"p1","x":145,"y":150},{"id":0,"v":"p1","x":145,"y":1000},{"id":0,"v":"p1","x":65,"y":1000},
{"id":1,"v":"n1","x":65,"y":150},{"id":1,"v":"n1","x":101.7,"y":150},{"id":1,"v":"n1","x":104,"y":190},{"id":1,"v":"n1","x":102.7,"y":230},{"id":1,"v":"n1","x":102.7,"y":265},{"id":1,"v":"n1","x":102,"y":290},{"id":1,"v":"n1","x":100.3,"y":345},{"id":1,"v":"n1","x":99,"y":318},{"id":1,"v":"n1","x":97,"y":340},{"id":1,"v":"n1","x":95.7,"y":380},{"id":1,"v":"n1","x":91.3,"y":380},{"id":1,"v":"n1","x":90.3,"y":420},{"id":1,"v":"n1","x":85.7,"y":445},{"id":1,"v":"n1","x":84.3,"y":340},{"id":1,"v":"n1","x":83.3,"y":300},{"id":1,"v":"n1","x":82.3,"y":290},{"id":1,"v":"n1","x":80,"y":235},{"id":1,"v":"n1","x":78.7,"y":200},{"id":1,"v":"n1","x":77,"y":232},{"id":1,"v":"n1","x":73,"y":232},{"id":1,"v":"n1","x":69,"y":230},{"id":1,"v":"n1","x":67,"y":240},{"id":1,"v":"n1","x":65,"y":243},
{"id":2,"v":"n1","x":69,"y":235},{"id":2,"v":"n1","x":73,"y":235},{"id":2,"v":"n1","x":73.3,"y":300},{"id":2,"v":"n1","x":74,"y":370},{"id":2,"v":"n1","x":74.3,"y":495},{"id":2,"v":"n1","x":73.3,"y":645},{"id":2,"v":"n1","x":73.3,"y":800},{"id":2,"v":"n1","x":72.5,"y":785},{"id":2,"v":"n1","x":72,"y":795},{"id":2,"v":"n1","x":71.2,"y":640},{"id":2,"v":"n1","x":70.4,"y":500},{"id":2,"v":"n1","x":70,"y":300},
{"id":3,"v":"n1","x":76.3,"y":405},{"id":3,"v":"n1","x":76.7,"y":570},{"id":3,"v":"n1","x":76.5,"y":690},{"id":3,"v":"n1","x":74.9,"y":610},{"id":3,"v":"n1","x":74.7,"y":445},
{"id":4,"v":"n1","x":68.7,"y":420},{"id":4,"v":"n1","x":69.2,"y":500},{"id":4,"v":"n1","x":69,"y":620},{"id":4,"v":"n1","x":68.6,"y":615},{"id":4,"v":"n1","x":68,"y":520},{"id":4,"v":"n1","x":68.1,"y":480},
{"id":5,"v":"n1","x":65.9,"y":690},{"id":5,"v":"n1","x":66.4,"y":700},{"id":5,"v":"n1","x":66.3,"y":850},{"id":5,"v":"n1","x":65.8,"y":850},
{"id":6,"v":"n1","x":68,"y":800},{"id":6,"v":"n1","x":68.4,"y":850},{"id":6,"v":"n1","x":67.9,"y":850},
{"id":7,"v":"n1","x":78.7,"y":315},{"id":7,"v":"n1","x":80.3,"y":305},{"id":7,"v":"n1","x":82.3,"y":330},{"id":7,"v":"n1","x":82.3,"y":390},{"id":7,"v":"n1","x":83.5,"y":400},{"id":7,"v":"n1","x":79.7,"y":430},{"id":7,"v":"n1","x":78.7,"y":410},
{"id":8,"v":"n1","x":77,"y":380},{"id":8,"v":"n1","x":77.7,"y":360},{"id":8,"v":"n1","x":77.8,"y":400},{"id":8,"v":"n1","x":77,"y":410},
{"id":9,"v":"p1","x":81,"y":170},{"id":9,"v":"p1","x":81.8,"y":195},{"id":9,"v":"p1","x":82,"y":215},{"id":9,"v":"p1","x":81,"y":220},{"id":9,"v":"p1","x":80.4,"y":205},
{"id":10,"v":"n1","x":102.7,"y":150},{"id":10,"v":"n1","x":109.7,"y":150},{"id":10,"v":"n1","x":110,"y":190},{"id":10,"v":"n1","x":109.7,"y":262},{"id":10,"v":"n1","x":108,"y":268},{"id":10,"v":"n1","x":106.3,"y":230},{"id":10,"v":"n1","x":104.7,"y":190},
{"id":11,"v":"n1","x":112,"y":160},{"id":11,"v":"n1","x":112.7,"y":190},{"id":11,"v":"n1","x":112.5,"y":215},{"id":11,"v":"n1","x":112,"y":225},{"id":11,"v":"n1","x":111.5,"y":190},
{"id":12,"v":"n1","x":110.3,"y":195},{"id":12,"v":"n1","x":110.7,"y":210},{"id":12,"v":"n1","x":110.3,"y":225},{"id":12,"v":"n1","x":110,"y":210},
{"id":13,"v":"n1","x":114.7,"y":175},{"id":13,"v":"n1","x":115.2,"y":185},{"id":13,"v":"n1","x":115.1,"y":205},{"id":13,"v":"n1","x":114.6,"y":205},
{"id":14,"v":"n1","x":116.7,"y":150},{"id":14,"v":"n1","x":145,"y":150},{"id":14,"v":"n1","x":145,"y":470},{"id":14,"v":"n1","x":144.3,"y":478},{"id":14,"v":"n1","x":142,"y":460},{"id":14,"v":"n1","x":139,"y":472},{"id":14,"v":"n1","x":137.5,"y":440},{"id":14,"v":"n1","x":135.7,"y":430},{"id":14,"v":"n1","x":135.2,"y":560},{"id":14,"v":"n1","x":134,"y":530},{"id":14,"v":"n1","x":132.3,"y":483},{"id":14,"v":"n1","x":131,"y":530},{"id":14,"v":"n1","x":130.3,"y":605},{"id":14,"v":"n1","x":128.5,"y":605},{"id":14,"v":"n1","x":127.7,"y":575},{"id":14,"v":"n1","x":127,"y":455},{"id":14,"v":"n1","x":125.7,"y":365},{"id":14,"v":"n1","x":124.3,"y":402},{"id":14,"v":"n1","x":122.7,"y":330},{"id":14,"v":"n1","x":121.7,"y":385},{"id":14,"v":"n1","x":121,"y":600},{"id":14,"v":"n1","x":120.7,"y":640},{"id":14,"v":"n1","x":120,"y":610},{"id":14,"v":"n1","x":119,"y":395},{"id":14,"v":"n1","x":117,"y":340},
{"id":15,"v":"p1","x":134.3,"y":178},{"id":15,"v":"p1","x":135,"y":250},{"id":15,"v":"p1","x":135,"y":310},{"id":15,"v":"p1","x":134.5,"y":340},{"id":15,"v":"p1","x":133.7,"y":310},{"id":15,"v":"p1","x":133.5,"y":250},
{"id":16,"v":"p1","x":143.7,"y":160},{"id":16,"v":"p1","x":144.5,"y":170},{"id":16,"v":"p1","x":145,"y":290},{"id":16,"v":"p1","x":144.5,"y":340},{"id":16,"v":"p1","x":143.8,"y":310},{"id":16,"v":"p1","x":143.3,"y":220},
{"id":17,"v":"n1","x":102.7,"y":487},{"id":17,"v":"n1","x":105,"y":495},{"id":17,"v":"n1","x":107,"y":510},{"id":17,"v":"n1","x":108.3,"y":590},{"id":17,"v":"n1","x":110,"y":605},{"id":17,"v":"n1","x":112,"y":560},{"id":17,"v":"n1","x":113.3,"y":450},{"id":17,"v":"n1","x":115,"y":450},{"id":17,"v":"n1","x":117.7,"y":505},{"id":17,"v":"n1","x":116.3,"y":565},{"id":17,"v":"n1","x":116,"y":720},{"id":17,"v":"n1","x":117.3,"y":865},{"id":17,"v":"n1","x":117.7,"y":930},{"id":17,"v":"n1","x":116.3,"y":1000},{"id":17,"v":"n1","x":110,"y":1000},{"id":17,"v":"n1","x":110,"y":925},{"id":17,"v":"n1","x":105,"y":925},{"id":17,"v":"n1","x":105,"y":850},{"id":17,"v":"n1","x":101.7,"y":850},{"id":17,"v":"n1","x":102,"y":565},{"id":17,"v":"n1","x":102,"y":490},
{"id":18,"v":"p1","x":114.7,"y":935},{"id":18,"v":"p1","x":115,"y":1000},{"id":18,"v":"p1","x":114,"y":1000},{"id":18,"v":"p1","x":114.3,"y":960},
{"id":19,"v":"n1","x":125.7,"y":645},{"id":19,"v":"n1","x":127,"y":690},{"id":19,"v":"n1","x":127,"y":840},{"id":19,"v":"n1","x":125,"y":895},{"id":19,"v":"n1","x":123,"y":975},{"id":19,"v":"n1","x":121.7,"y":945},{"id":19,"v":"n1","x":121.7,"y":755},{"id":19,"v":"n1","x":122.3,"y":690},{"id":19,"v":"n1","x":124,"y":665},
{"id":20,"v":"n1","x":122,"y":500},{"id":20,"v":"n1","x":122.4,"y":570},{"id":20,"v":"n1","x":121.5,"y":650},{"id":20,"v":"n1","x":121.2,"y":600},
{"id":21,"v":"n1","x":134,"y":1000},{"id":21,"v":"n1","x":134,"y":930},{"id":21,"v":"n1","x":134.7,"y":875},{"id":21,"v":"n1","x":136,"y":825},{"id":21,"v":"n1","x":137,"y":795},{"id":21,"v":"n1","x":137.7,"y":850},{"id":21,"v":"n1","x":137.7,"y":1000},
{"id":22,"v":"n1","x":141.3,"y":870},{"id":22,"v":"n1","x":142.8,"y":810},{"id":22,"v":"n1","x":145,"y":680},{"id":22,"v":"n1","x":145,"y":1000},{"id":22,"v":"n1","x":142.7,"y":1000},{"id":22,"v":"n1","x":140,"y":945},
{"id":23,"v":"n1","x":119,"y":890},{"id":23,"v":"n1","x":120,"y":900},{"id":23,"v":"n1","x":119.8,"y":960},{"id":23,"v":"n1","x":119.2,"y":965},{"id":23,"v":"n1","x":118.7,"y":925},
{"id":24,"v":"n1","x":131.3,"y":905},{"id":24,"v":"n1","x":131.8,"y":930},{"id":24,"v":"n1","x":131.3,"y":965},{"id":24,"v":"n1","x":131,"y":930},
{"id":30,"v":"n2","x":90.7,"y":302},{"id":30,"v":"n2","x":92,"y":293},{"id":30,"v":"n2","x":92.8,"y":300},{"id":30,"v":"n2","x":92,"y":310},
{"id":31,"v":"n2","x":143.4,"y":915},{"id":31,"v":"n2","x":143.8,"y":925},{"id":31,"v":"n2","x":143.4,"y":940},{"id":31,"v":"n2","x":143.1,"y":925},
{"id":40,"v":"p2","x":77.8,"y":480},{"id":40,"v":"p2","x":78.7,"y":460},{"id":40,"v":"p2","x":79.3,"y":470},{"id":40,"v":"p2","x":81.7,"y":455},{"id":40,"v":"p2","x":83.7,"y":480},{"id":40,"v":"p2","x":84.3,"y":520},{"id":40,"v":"p2","x":85,"y":520},{"id":40,"v":"p2","x":85.5,"y":560},{"id":40,"v":"p2","x":86.3,"y":550},{"id":40,"v":"p2","x":86.7,"y":500},{"id":40,"v":"p2","x":88.3,"y":480},{"id":40,"v":"p2","x":90,"y":470},{"id":40,"v":"p2","x":90.3,"y":600},{"id":40,"v":"p2","x":78,"y":600},
{"id":41,"v":"p2","x":96,"y":465},{"id":41,"v":"p2","x":97,"y":500},{"id":41,"v":"p2","x":96.5,"y":540},{"id":41,"v":"p2","x":95.8,"y":560},{"id":41,"v":"p2","x":95,"y":510},{"id":41,"v":"p2","x":95.2,"y":480},
{"id":42,"v":"p2","x":98.7,"y":478},{"id":42,"v":"p2","x":99.3,"y":510},{"id":42,"v":"p2","x":98.7,"y":545},{"id":42,"v":"p2","x":98.2,"y":510},
{"id":50,"v":"p3","x":81.6,"y":500},{"id":50,"v":"p3","x":82,"y":550},{"id":50,"v":"p3","x":83.3,"y":590},{"id":50,"v":"p3","x":83.4,"y":600},{"id":50,"v":"p3","x":80,"y":600},{"id":50,"v":"p3","x":80.2,"y":565},{"id":50,"v":"p3","x":81,"y":545}
]
},
"vconcat":[
{"columns":2,"spacing":{"column":58,"row":63},"bounds":"flush","concat":[
{"width":400,"height":376,"encoding":{"x":{"field":"x","type":"quantitative","scale":{"domain":[65,145]},"axis":{"values":[70,80,90,100,110,120,130,140],"labelExpr":"datum.value+'E'"}},"y":{"field":"y","type":"quantitative","scale":{"domain":[150,200,500,850,1000],"range":[0,22.7,156.3,311,376]},"axis":{"values":[150,200,250,300,380,500,600,700,850,925,1000],"labelExpr":"''+datum.value"}},"color":{"field":"v","type":"nominal","legend":null,"scale":{"domain":["land","n5","n4","n3","n2","n1","p1","p2","p3","p4","p5"],"range":["#a8a09a","#3e2f6e","#453a82","#5c5596","#837bae","#b5acd0","#efc5bf","#e09a92","#d27166","#c75046","#a5352c"]}},"detail":{"field":"id"}},
"layer":[{"data":{"name":"a"},"mark":{"type":"line","filled":true,"order":null,"strokeWidth":0}},{"data":{"name":"land"},"mark":{"type":"line","filled":true,"order":null,"strokeWidth":0}},{"data":{"values":[{"x":71,"y":215,"t":"(a)"}]},"mark":{"type":"text","font":"Liberation Serif","fontSize":27},"encoding":{"text":{"field":"t"},"color":{"value":"#111"}}}]},
{"width":400,"height":376,"encoding":{"x":{"field":"x","type":"quantitative","scale":{"domain":[65,145]},"axis":{"values":[70,80,90,100,110,120,130,140],"labelExpr":"datum.value+'E'"}},"y":{"field":"y","type":"quantitative","scale":{"domain":[150,200,500,850,1000],"range":[0,22.7,156.3,311,376]},"axis":{"values":[150,200,250,300,380,500,600,700,850,925,1000],"labelExpr":"''+datum.value"}},"color":{"field":"v","type":"nominal","legend":null,"scale":{"domain":["land","n5","n4","n3","n2","n1","p1","p2","p3","p4","p5"],"range":["#a8a09a","#3e2f6e","#453a82","#5c5596","#837bae","#b5acd0","#efc5bf","#e09a92","#d27166","#c75046","#a5352c"]}},"detail":{"field":"id"}},
"layer":[{"data":{"name":"b"},"mark":{"type":"line","filled":true,"order":null,"strokeWidth":0}},{"data":{"name":"land"},"mark":{"type":"line","filled":true,"order":null,"strokeWidth":0}},{"data":{"values":[{"x":70.3,"y":215,"t":"(b)"}]},"mark":{"type":"text","font":"Liberation Serif","fontSize":27},"encoding":{"text":{"field":"t"},"color":{"value":"#111"}}}]},
{"width":400,"height":376,"encoding":{"x":{"field":"x","type":"quantitative","scale":{"domain":[65,145]},"axis":{"values":[70,80,90,100,110,120,130,140],"labelExpr":"datum.value+'E'"}},"y":{"field":"y","type":"quantitative","scale":{"domain":[150,200,500,850,1000],"range":[0,22.7,156.3,311,376]},"axis":{"values":[150,200,250,300,380,500,600,700,850,925,1000],"labelExpr":"''+datum.value"}},"color":{"field":"v","type":"nominal","legend":null,"scale":{"domain":["land","n5","n4","n3","n2","n1","p1","p2","p3","p4","p5"],"range":["#a8a09a","#3e2f6e","#453a82","#5c5596","#837bae","#b5acd0","#efc5bf","#e09a92","#d27166","#c75046","#a5352c"]}},"detail":{"field":"id"}},
"layer":[{"data":{"name":"c"},"mark":{"type":"line","filled":true,"order":null,"strokeWidth":0}},{"data":{"name":"land"},"mark":{"type":"line","filled":true,"order":null,"strokeWidth":0}},{"data":{"values":[{"x":69.6,"y":213,"t":"(c)"}]},"mark":{"type":"text","font":"Liberation Serif","fontSize":27},"encoding":{"text":{"field":"t"},"color":{"value":"#111"}}}]},
{"width":400,"height":376,"encoding":{"x":{"field":"x","type":"quantitative","scale":{"domain":[65,145]},"axis":{"values":[70,80,90,100,110,120,130,140],"labelExpr":"datum.value+'E'"}},"y":{"field":"y","type":"quantitative","scale":{"domain":[150,200,500,850,1000],"range":[0,22.7,156.3,311,376]},"axis":{"values":[150,200,250,300,380,500,600,700,850,925,1000],"labelExpr":"''+datum.value"}},"color":{"field":"v","type":"nominal","legend":null,"scale":{"domain":["land","n5","n4","n3","n2","n1","p1","p2","p3","p4","p5"],"range":["#a8a09a","#3e2f6e","#453a82","#5c5596","#837bae","#b5acd0","#efc5bf","#e09a92","#d27166","#c75046","#a5352c"]}},"detail":{"field":"id"}},
"layer":[{"data":{"name":"d"},"mark":{"type":"line","filled":true,"order":null,"strokeWidth":0}},{"data":{"name":"land"},"mark":{"type":"line","filled":true,"order":null,"strokeWidth":0}},{"data":{"values":[{"x":70.8,"y":213,"t":"(d)"}]},"mark":{"type":"text","font":"Liberation Serif","fontSize":27},"encoding":{"text":{"field":"t"},"color":{"value":"#111"}}}]}
]},
{"width":857,"height":16,"view":{"stroke":null},
"layer":[
{"data":{"values":[{"id":1,"v":"n5","x":0,"y":0.5},{"id":1,"v":"n5","x":1,"y":1},{"id":1,"v":"n5","x":1,"y":0},{"id":2,"v":"p5","x":10,"y":0.5},{"id":2,"v":"p5","x":9,"y":1},{"id":2,"v":"p5","x":9,"y":0}]},"mark":{"type":"line","filled":true,"order":null,"stroke":"#222","strokeWidth":1.5},"encoding":{"x":{"field":"x","type":"quantitative","axis":null,"scale":{"domain":[-0.851,11.305]}},"y":{"field":"y","type":"quantitative","axis":null,"scale":{"domain":[0,1]}},"detail":{"field":"id"},"color":{"field":"v","type":"nominal","legend":null,"scale":{"domain":["n4","n3","n2","n1","p1","p2","p3","p4","n5","p5"],"range":["#453a82","#5c5596","#837bae","#b5acd0","#efc5bf","#e09a92","#d27166","#c75046","#3e2f6e","#a5352c"]}}}},
{"data":{"values":[{"a":1,"b":2,"v":"n4"},{"a":2,"b":3,"v":"n3"},{"a":3,"b":4,"v":"n2"},{"a":4,"b":5,"v":"n1"},{"a":5,"b":6,"v":"p1"},{"a":6,"b":7,"v":"p2"},{"a":7,"b":8,"v":"p3"},{"a":8,"b":9,"v":"p4"}]},"mark":{"type":"rect","stroke":"#222","strokeWidth":1.5},"encoding":{"x":{"field":"a","type":"quantitative","axis":null,"scale":{"domain":[-0.851,11.305]}},"x2":{"field":"b"},"color":{"field":"v","type":"nominal","legend":null,"scale":{"domain":["n4","n3","n2","n1","p1","p2","p3","p4","n5","p5"],"range":["#453a82","#5c5596","#837bae","#b5acd0","#efc5bf","#e09a92","#d27166","#c75046","#3e2f6e","#a5352c"]}}}},
{"data":{"values":[{"a":1,"t":"−0.5"},{"a":2,"t":"−0.3"},{"a":3,"t":"−0.2"},{"a":4,"t":"−0.1"},{"a":5,"t":"0"},{"a":6,"t":"0.1"},{"a":7,"t":"0.2"},{"a":8,"t":"0.3"},{"a":9,"t":"0.5"}]},"mark":{"type":"text","font":"Liberation Sans","fontSize":16,"color":"#222"},"encoding":{"x":{"field":"a","type":"quantitative","axis":null,"scale":{"domain":[-0.851,11.305]}},"y":{"datum":-0.625,"type":"quantitative","axis":null,"scale":{"domain":[0,1]}},"text":{"field":"t"}}}
]}
],"spacing":1}
